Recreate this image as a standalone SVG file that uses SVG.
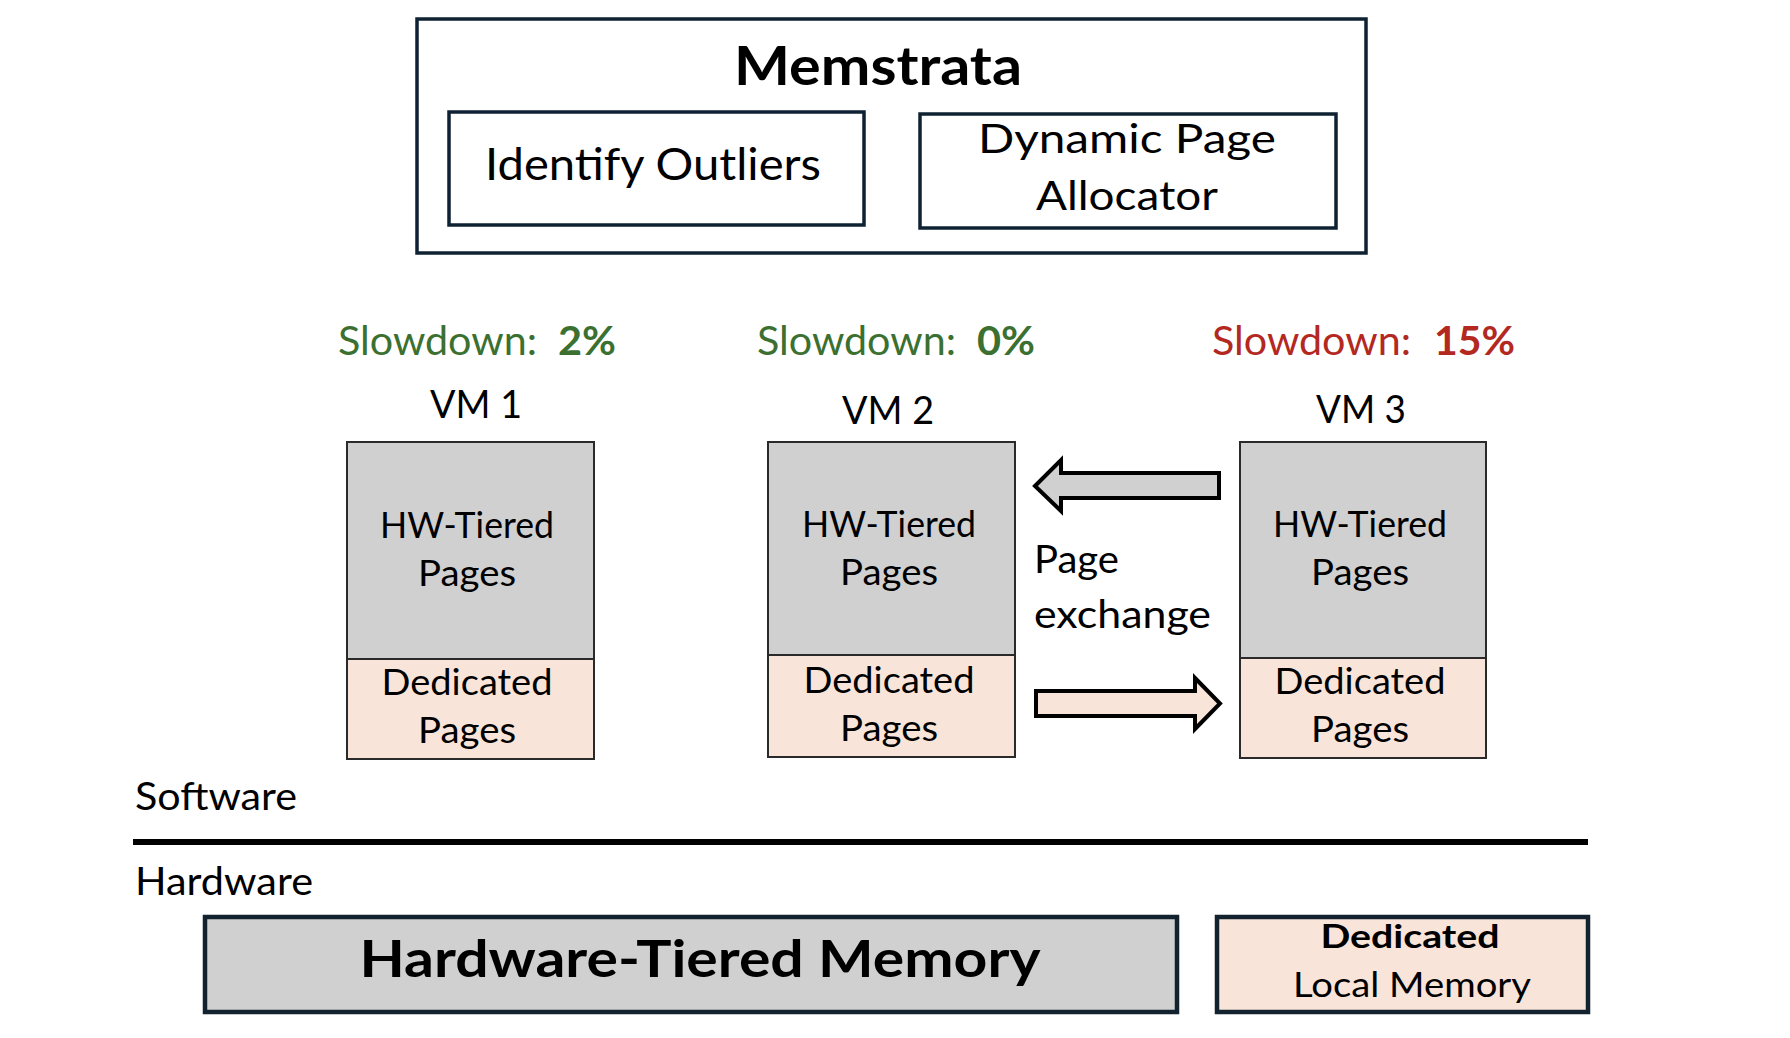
<svg xmlns="http://www.w3.org/2000/svg" width="1790" height="1038" viewBox="0 0 1790 1038">
  <style>
    text { font-family: Lato, "Open Sans", "Liberation Sans", sans-serif; fill: #000; }
    .b { font-weight: bold; }
    .mid { text-anchor: middle; }
    .frame { fill: #fff; stroke: #0f2233; stroke-width: 3.5; }
    .hw { fill: #d0d0d0; stroke: #2a2a2a; stroke-width: 2; }
    .ded { fill: #f8e4d8; stroke: #2a2a2a; stroke-width: 2; }
    .bighw { fill: #d0d0d0; stroke: #13222f; stroke-width: 4.5; }
    .bigded { fill: #f8e4d8; stroke: #13222f; stroke-width: 4.5; }
    .ok { fill: #3b7031; }
    .bad { fill: #b3281f; }
    .arrow { stroke: #000; stroke-width: 4; stroke-linejoin: miter; }
  </style>

  <!-- Memstrata controller -->
  <g id="memstrata">
    <rect class="frame" x="417" y="19" width="949" height="234"/>
    <text class="b mid" x="878" y="85" font-size="54" textLength="288" lengthAdjust="spacingAndGlyphs">Memstrata</text>
  </g>
  <g id="identify-outliers">
    <rect class="frame" x="449" y="112" width="415" height="113"/>
    <text class="mid" x="653" y="180" font-size="45" textLength="336" lengthAdjust="spacingAndGlyphs">Identify Outliers</text>
  </g>
  <g id="page-allocator">
    <rect class="frame" x="920" y="114" width="416" height="114"/>
    <text class="mid" x="1127" y="153" font-size="40" textLength="298" lengthAdjust="spacingAndGlyphs">Dynamic Page</text>
    <text class="mid" x="1127" y="210" font-size="40" textLength="182" lengthAdjust="spacingAndGlyphs">Allocator</text>
  </g>

  <!-- Per-VM slowdown labels -->
  <g id="slowdown-vm1">
    <text class="ok" x="338" y="355" font-size="40" textLength="199" lengthAdjust="spacingAndGlyphs">Slowdown:</text>
    <text class="ok b" x="558" y="355" font-size="40" textLength="58" lengthAdjust="spacingAndGlyphs">2%</text>
  </g>
  <g id="slowdown-vm2">
    <text class="ok" x="757" y="355" font-size="40" textLength="199" lengthAdjust="spacingAndGlyphs">Slowdown:</text>
    <text class="ok b" x="977" y="355" font-size="40" textLength="58" lengthAdjust="spacingAndGlyphs">0%</text>
  </g>
  <g id="slowdown-vm3">
    <text class="bad" x="1212" y="355" font-size="40" textLength="199" lengthAdjust="spacingAndGlyphs">Slowdown:</text>
    <text class="bad b" x="1434" y="355" font-size="40" textLength="81" lengthAdjust="spacingAndGlyphs">15%</text>
  </g>

  <!-- VM 1 -->
  <g id="vm1">
    <text class="mid" x="476" y="418" font-size="38" textLength="92" lengthAdjust="spacingAndGlyphs">VM 1</text>
    <rect class="hw" x="347" y="442" width="247" height="217"/>
    <rect class="ded" x="347" y="659" width="247" height="100"/>
    <text class="mid" x="467" y="538" font-size="36" textLength="174" lengthAdjust="spacingAndGlyphs">HW-Tiered</text>
    <text class="mid" x="467" y="586" font-size="36" textLength="98" lengthAdjust="spacingAndGlyphs">Pages</text>
    <text class="mid" x="467" y="695" font-size="36" textLength="171" lengthAdjust="spacingAndGlyphs">Dedicated</text>
    <text class="mid" x="467" y="743" font-size="36" textLength="98" lengthAdjust="spacingAndGlyphs">Pages</text>
  </g>

  <!-- VM 2 -->
  <g id="vm2">
    <text class="mid" x="888" y="424" font-size="38" textLength="92" lengthAdjust="spacingAndGlyphs">VM 2</text>
    <rect class="hw" x="768" y="442" width="247" height="213"/>
    <rect class="ded" x="768" y="655" width="247" height="102"/>
    <text class="mid" x="889" y="537" font-size="36" textLength="174" lengthAdjust="spacingAndGlyphs">HW-Tiered</text>
    <text class="mid" x="889" y="585" font-size="36" textLength="98" lengthAdjust="spacingAndGlyphs">Pages</text>
    <text class="mid" x="889" y="693" font-size="36" textLength="171" lengthAdjust="spacingAndGlyphs">Dedicated</text>
    <text class="mid" x="889" y="741" font-size="36" textLength="98" lengthAdjust="spacingAndGlyphs">Pages</text>
  </g>

  <!-- VM 3 -->
  <g id="vm3">
    <text class="mid" x="1361" y="423" font-size="38" textLength="90" lengthAdjust="spacingAndGlyphs">VM 3</text>
    <rect class="hw" x="1240" y="442" width="246" height="216"/>
    <rect class="ded" x="1240" y="658" width="246" height="100"/>
    <text class="mid" x="1360" y="537" font-size="36" textLength="174" lengthAdjust="spacingAndGlyphs">HW-Tiered</text>
    <text class="mid" x="1360" y="585" font-size="36" textLength="98" lengthAdjust="spacingAndGlyphs">Pages</text>
    <text class="mid" x="1360" y="694" font-size="36" textLength="171" lengthAdjust="spacingAndGlyphs">Dedicated</text>
    <text class="mid" x="1360" y="742" font-size="36" textLength="98" lengthAdjust="spacingAndGlyphs">Pages</text>
  </g>

  <!-- Page exchange between VM 3 and VM 2 -->
  <g id="connectors">
    <polygon class="arrow" fill="#d0d0d0" points="1035,486 1061,460 1061,473 1219,473 1219,498 1061,498 1061,511"/>
    <polygon class="arrow" fill="#f8e4d8" points="1036,691 1195,691 1195,678 1220,703.5 1195,729 1195,716 1036,716"/>
  </g>
  <g id="page-exchange-label">
    <text x="1034" y="573" font-size="38" textLength="85" lengthAdjust="spacingAndGlyphs">Page</text>
    <text x="1034" y="628" font-size="38" textLength="177" lengthAdjust="spacingAndGlyphs">exchange</text>
  </g>

  <!-- Software / hardware boundary -->
  <g id="layer-divider">
    <text x="135" y="810" font-size="39" textLength="162" lengthAdjust="spacingAndGlyphs">Software</text>
    <line x1="133" y1="842" x2="1588" y2="842" stroke="#000" stroke-width="6"/>
    <text x="135" y="895" font-size="39" textLength="178" lengthAdjust="spacingAndGlyphs">Hardware</text>
  </g>

  <!-- Physical memory -->
  <g id="hw-tiered-memory">
    <rect class="bighw" x="205" y="917" width="972" height="95"/>
    <text class="b mid" x="700" y="977" font-size="52" textLength="681" lengthAdjust="spacingAndGlyphs">Hardware-Tiered Memory</text>
  </g>
  <g id="dedicated-local-memory">
    <rect class="bigded" x="1217" y="917" width="371" height="95"/>
    <text class="b mid" x="1410" y="948" font-size="33" textLength="179" lengthAdjust="spacingAndGlyphs">Dedicated</text>
    <text class="mid" x="1412" y="997" font-size="34" textLength="238" lengthAdjust="spacingAndGlyphs">Local Memory</text>
  </g>
</svg>
